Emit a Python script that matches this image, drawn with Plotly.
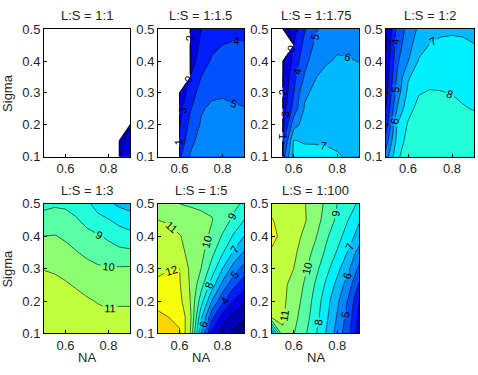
import numpy as np
import plotly.graph_objects as go

NA = [0.5, 0.55, 0.6, 0.65, 0.7, 0.75, 0.8, 0.85, 0.9]
SIGMA = [0.1, 0.15, 0.2, 0.25, 0.3, 0.35, 0.4, 0.45, 0.5]
X_TICKS = [0.6, 0.8]
Y_TICKS = [0.1, 0.2, 0.3, 0.4, 0.5]
TITLES = ["L:S = 1:1", "L:S = 1:1.5", "L:S = 1:1.75", "L:S = 1:2",
          "L:S = 1:3", "L:S = 1:5", "L:S = 1:100"]
N = float("nan")

# rows: sigma 0.1 -> 0.5 ; columns: NA 0.5 -> 0.9
z_1_1 = [
    [N, N, N, N, N, N, N, 1.9, 2.5],
    [N, N, N, N, N, N, N, 1.6, 2.4],
    [N, N, N, N, N, N, N, N, 2.2],
    [N, N, N, N, N, N, N, N, N],
    [N, N, N, N, N, N, N, N, N],
    [N, N, N, N, N, N, N, N, N],
    [N, N, N, N, N, N, N, N, N],
    [N, N, N, N, N, N, N, N, N],
    [N, N, N, N, N, N, N, N, N],
]
z_1_1p5 = [
    [N, N, 3.8, 5.1, 5.6, 5.8, 5.9, 5.9, 5.8],
    [N, N, 3.2, 4.7, 5.4, 5.7, 5.8, 5.8, 5.7],
    [N, N, 2.9, 4.3, 5.1, 5.5, 5.6, 5.5, 5.4],
    [N, N, 2.6, 3.9, 4.9, 5.2, 5.2, 5.1, 5.05],
    [N, N, 2.3, 3.5, 4.4, 4.8, 4.9, 4.8, 4.7],
    [N, N, N, 3.0, 4.0, 4.5, 4.6, 4.5, 4.4],
    [N, N, N, 2.5, 3.5, 4.1, 4.3, 4.2, 4.2],
    [N, N, N, 2.3, 3.2, 3.8, 4.0, 4.05, 4.05],
    [N, N, N, 2.2, 3.0, 3.6, 3.8, 3.85, 3.85],
]
z_1_1p75 = [
    [N, 4.5, 7.3, 7.4, 7.35, 7.3, 7.1, 6.9, 6.8],
    [N, 3.5, 7.05, 6.9, 6.9, 6.85, 6.8, 6.75, 6.7],
    [N, 2.8, 5.6, 6.4, 6.7, 6.9, 6.95, 6.9, 6.8],
    [N, 2.4, 4.4, 6.1, 6.5, 6.75, 6.85, 6.8, 6.7],
    [N, 2.2, 4.0, 5.85, 6.2, 6.5, 6.6, 6.55, 6.45],
    [N, 2.0, 3.7, 5.1, 5.97, 6.3, 6.4, 6.35, 6.25],
    [N, 1.8, 3.3, 4.7, 5.5, 5.9, 6.1, 6.05, 5.98],
    [N, N, 3.0, 4.3, 5.2, 5.6, 5.85, 5.85, 5.8],
    [N, 1.5, 2.6, 3.9, 4.9, 5.3, 5.6, 5.7, 5.8],
]
z_1_2 = [
    [5.5, 7.8, 8.6, 8.95, 8.95, 8.85, 8.7, 8.55, 8.45],
    [4.5, 7.3, 8.4, 8.8, 8.85, 8.75, 8.6, 8.45, 8.35],
    [3.5, 7.0, 8.1, 8.6, 8.7, 8.6, 8.45, 8.3, 8.2],
    [3.0, 6.0, 7.7, 8.3, 8.4, 8.35, 8.25, 8.03, 7.98],
    [2.6, 5.5, 7.2, 7.95, 8.08, 8.03, 7.97, 7.93, 7.85],
    [2.3, 5.1, 6.9, 7.4, 7.7, 7.8, 7.8, 7.75, 7.65],
    [2.1, 4.8, 5.95, 7.1, 7.4, 7.5, 7.5, 7.45, 7.35],
    [1.9, 4.5, 5.6, 6.6, 7.05, 7.15, 7.15, 7.1, 7.01],
    [1.6, 4.3, 5.3, 6.2, 6.7, 6.85, 6.9, 6.9, 6.9],
]
z_1_3 = [
    [12.0, 11.95, 11.9, 11.75, 11.6, 11.45, 11.35, 11.35, 11.35],
    [11.9, 11.85, 11.75, 11.6, 11.4, 11.25, 11.15, 11.2, 11.2],
    [11.7, 11.6, 11.5, 11.3, 11.1, 10.95, 10.85, 10.9, 10.9],
    [11.4, 11.3, 11.1, 10.9, 10.7, 10.55, 10.45, 10.45, 10.45],
    [10.95, 10.85, 10.7, 10.5, 10.3, 10.15, 10.08, 10.1, 10.12],
    [10.4, 10.4, 10.3, 10.05, 9.8, 9.55, 9.35, 9.25, 9.2],
    [10.0, 10.05, 9.85, 9.6, 9.3, 9.1, 8.85, 8.5, 8.3],
    [9.3, 9.35, 9.3, 9.1, 8.7, 8.3, 8.05, 7.7, 7.5],
    [8.8, 8.9, 8.85, 8.6, 8.2, 7.6, 7.2, 6.8, 6.6],
]
z_1_5 = [
    [13.6, 13.4, 13.1, 11.0, 6.0, 2.8, 1.4, 0.8, 0.6],
    [13.2, 13.0, 12.8, 11.3, 7.2, 4.3, 2.6, 1.6, 1.1],
    [12.7, 12.6, 12.3, 11.0, 8.5, 6.0, 4.2, 3.0, 2.2],
    [12.2, 12.3, 12.1, 10.9, 9.4, 7.5, 5.7, 4.3, 3.4],
    [11.8, 11.95, 12.0, 10.8, 10.0, 8.6, 7.0, 5.6, 4.6],
    [11.5, 11.6, 11.3, 10.7, 10.3, 9.3, 8.1, 6.9, 5.9],
    [11.3, 11.3, 11.05, 10.7, 10.4, 9.8, 8.9, 7.9, 7.0],
    [11.0, 10.9, 10.6, 10.4, 10.2, 10.05, 9.5, 8.8, 8.0],
    [10.4, 10.2, 10.0, 9.9, 9.85, 9.8, 9.6, 9.3, 8.8],
]
z_1_100 = [
    [6.0, 10.9, 10.05, 9.2, 8.1, 6.9, 5.6, 4.3, 2.6],
    [11.2, 11.1, 10.3, 9.5, 8.4, 7.2, 5.9, 4.6, 2.75],
    [11.3, 11.2, 10.5, 9.7, 8.6, 7.4, 6.2, 4.9, 3.05],
    [11.5, 11.2, 10.7, 9.9, 8.9, 7.8, 6.7, 5.5, 3.9],
    [11.7, 11.4, 11.0, 10.2, 9.3, 8.3, 7.3, 6.2, 4.8],
    [11.9, 11.6, 11.2, 10.5, 9.7, 8.8, 7.9, 6.9, 5.6],
    [12.2, 11.8, 11.4, 10.8, 10.1, 9.15, 8.4, 7.5, 6.6],
    [12.05, 11.7, 11.5, 11.1, 10.4, 9.6, 8.8, 8.0, 7.1],
    [11.6, 11.55, 11.4, 11.05, 10.5, 9.8, 9.0, 8.3, 7.9],
]
Z_ALL = [z_1_1, z_1_1p5, z_1_1p75, z_1_2, z_1_3, z_1_5, z_1_100]

LEV_START, LEV_END, LEV_SIZE = 0, 14, 1
C_MIN, C_MAX = 0.0, 19.5   # jet colour limits


def jet(t):
    t = min(max(t, 0.0), 1.0)
    r = min(max(1.5 - abs(4 * t - 3), 0), 1)
    g = min(max(1.5 - abs(4 * t - 2), 0), 1)
    b = min(max(1.5 - abs(4 * t - 1), 0), 1)
    return "rgb(%d,%d,%d)" % (round(r * 255), round(g * 255), round(b * 255))


# stepped colorscale: band j=0 (below first level / missing data) is white
nc = (LEV_END - LEV_START) // LEV_SIZE + 1
nb = nc
colorscale = []
for j in range(nb + 1):
    if j == 0:
        col = "rgb(255,255,255)"
    else:
        lo_val = LEV_START + (j - 1) * LEV_SIZE
        col = jet((lo_val - C_MIN) / (C_MAX - C_MIN))
    lo = max(0.0, (j - 0.5) / nb)
    hi = min(1.0, (j + 0.5) / nb)
    colorscale.append([lo, col])
    colorscale.append([hi, col])

W, H = 478, 375
COLS_PX = [(44, 130), (158, 244), (272, 359), (386, 474)]
ROWS_PX = [(23, 156), (205, 340)]

fig = go.Figure()
font_family = "Liberation Sans, Arial, sans-serif"
TXT = "#262626"
annotations = []

for i, z in enumerate(Z_ALL):
    r, c = divmod(i, 4)
    x0, x1 = COLS_PX[c]
    y0, y1 = ROWS_PX[r]
    xd = [x0 / W, x1 / W]
    yd = [1 - y1 / H, 1 - y0 / H]
    zarr = np.array(z, dtype=float)
    zplot = np.where(np.isnan(zarr), -1e4, zarr)
    ax = "" if i == 0 else str(i + 1)
    fig.add_trace(go.Contour(
        x=NA, y=SIGMA, z=zplot,
        xaxis="x" + ax, yaxis="y" + ax,
        autocontour=False,
        contours=dict(start=LEV_START, end=LEV_END, size=LEV_SIZE,
                      coloring="fill", showlabels=True,
                      labelfont=dict(size=11, color="black", family=font_family)),
        colorscale=colorscale, showscale=False,
        line=dict(color="black", width=0.6, smoothing=0),
        hoverinfo="skip",
    ))
    axis_common = dict(showline=True, linecolor="black", linewidth=1, mirror=True,
                       ticks="inside", ticklen=3, tickcolor="black",
                       showgrid=False, zeroline=False,
                       tickfont=dict(size=13, color=TXT, family=font_family))
    fig.update_layout(**{
        "xaxis" + ax: dict(domain=xd, range=[0.5, 0.9], tickvals=X_TICKS,
                           ticktext=["0.6", "0.8"], anchor="y" + ax, **axis_common),
        "yaxis" + ax: dict(domain=yd, range=[0.1, 0.5], tickvals=Y_TICKS,
                           ticktext=["0.1", "0.2", "0.3", "0.4", "0.5"],
                           anchor="x" + ax, **axis_common),
    })
    annotations.append(dict(text=TITLES[i], x=(xd[0] + xd[1]) / 2,
                            y=1 - (y0 - 14) / H,
                            xref="paper", yref="paper", xanchor="center", yanchor="middle",
                            showarrow=False,
                            font=dict(size=13, color=TXT, family=font_family)))
    if c == 0:
        annotations.append(dict(text="Sigma", x=8 / W, y=(yd[0] + yd[1]) / 2,
                                xref="paper", yref="paper", xanchor="center",
                                yanchor="middle", textangle=-90, showarrow=False,
                                font=dict(size=13, color=TXT, family=font_family)))
    if r == 1:
        annotations.append(dict(text="NA", x=(xd[0] + xd[1]) / 2, y=1 - 365 / H,
                                xref="paper", yref="paper", xanchor="center",
                                yanchor="middle", showarrow=False,
                                font=dict(size=13, color=TXT, family=font_family)))

fig.update_layout(width=W, height=H, margin=dict(l=0, r=0, t=0, b=0),
                  paper_bgcolor="white", plot_bgcolor="white",
                  showlegend=False, annotations=annotations)
fig.write_html("out.html")
